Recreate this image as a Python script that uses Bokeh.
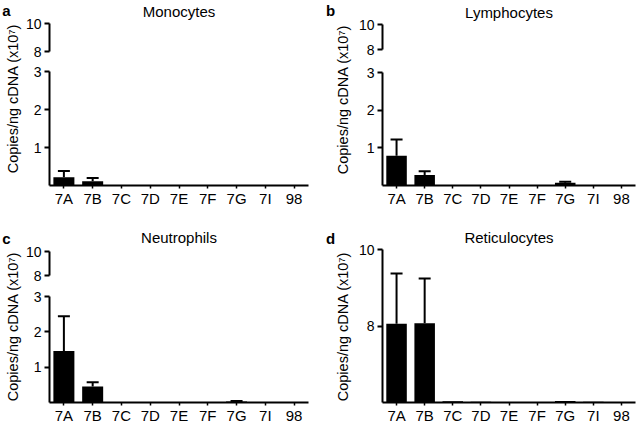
import math
from bokeh.plotting import figure
from bokeh.models import ColumnDataSource, FactorRange, Range1d, FixedTicker, Whisker, TeeHead
from bokeh.layouts import row, column
from bokeh.embed import file_html
from bokeh.resources import INLINE
from bokeh.core.properties import value

# ---------------- data ----------------
categories = ["7A", "7B", "7C", "7D", "7E", "7F", "7G", "7I", "98"]

mono_mean = [0.22, 0.11, 0.01, 0.01, 0.005, 0.005, 0.01, 0.005, 0.01]
mono_sem = [0.16, 0.09, 0, 0, 0, 0, 0, 0, 0]

lymph_mean = [0.79, 0.28, 0.01, 0.01, 0.01, 0.005, 0.07, 0.005, 0.01]
lymph_sem = [0.43, 0.10, 0, 0, 0, 0, 0.03, 0, 0]

neut_mean = [1.46, 0.45, 0.01, 0.01, 0.01, 0.01, 0.03, 0.005, 0.01]
neut_sem = [0.98, 0.12, 0, 0, 0, 0, 0.01, 0, 0]

retic_mean = [8.06, 8.07, 6.03, 6.02, 6.01, 6.005, 6.04, 6.02, 6.01]
retic_sem = [1.31, 1.17, 0, 0, 0, 0, 0, 0, 0]

titles = ["Monocytes", "Lymphocytes", "Neutrophils", "Reticulocytes"]
letters = ["a", "b", "c", "d"]
y_label = "Copies/ng cDNA (x10\u2077)"

lower_range = (0, 3)
lower_ticks = [1, 2, 3]
upper_range = (8, 10)
upper_ticks = [8, 10]
retic_range = (6, 10)
retic_ticks = [8, 10]

FONT = "Liberation Sans"
BAR_W = 0.73


def base_fig(width, height, yr, left, right, top, bottom, with_x=True):
    kw = {} if with_x else {"x_axis_location": None}
    p = figure(width=width, height=height, tools="",
               x_range=FactorRange(*categories, range_padding=0),
               y_range=Range1d(*yr), output_backend="svg", toolbar_location=None,
               min_border_left=left, min_border_right=right,
               min_border_top=top, min_border_bottom=bottom, **kw)
    p.outline_line_color = None
    p.xgrid.grid_line_color = None
    p.ygrid.grid_line_color = None
    p.background_fill_color = "white"
    p.border_fill_color = "white"
    return p


def style_axes(p, ticks, show_x):
    ya = p.yaxis[0]
    ya.ticker = FixedTicker(ticks=ticks)
    ya.axis_line_width = 2
    ya.axis_line_color = "black"
    ya.major_tick_line_width = 2
    ya.major_tick_line_color = "black"
    ya.major_tick_out = 5
    ya.major_tick_in = 0
    ya.minor_tick_line_color = None
    ya.major_label_standoff = 3
    ya.major_label_text_font = FONT
    ya.major_label_text_font_size = "14px"
    ya.major_label_text_color = "black"
    if show_x:
        xa = p.xaxis[0]
        xa.axis_line_width = 2
        xa.major_tick_line_width = 1.5
        xa.major_tick_out = 3
        xa.major_tick_in = 0
        xa.minor_tick_line_color = None
        xa.major_label_standoff = 1
        xa.major_label_text_font = FONT
        xa.major_label_text_font_size = "15px"
        xa.major_label_text_color = "black"


def draw_bars(p, means, sems, base, y_start):
    # only bars / error bars that reach into this axis segment are drawn
    keep = [i for i, m in enumerate(means) if m > y_start]
    if keep:
        src = ColumnDataSource(dict(cat=[categories[i] for i in keep],
                                    mean=[means[i] for i in keep],
                                    bottom=[base] * len(keep)))
        p.vbar(x="cat", top="mean", bottom="bottom", width=BAR_W, source=src,
               fill_color="black", line_color=None)
    ekeep = [i for i, (m, s) in enumerate(zip(means, sems))
             if s > 0 and m + s > y_start]
    if ekeep:
        esrc = ColumnDataSource(dict(cat=[categories[i] for i in ekeep],
                                     lower=[means[i] for i in ekeep],
                                     upper=[means[i] + sems[i] for i in ekeep]))
        w = Whisker(base="cat", lower="lower", upper="upper", source=esrc,
                    line_width=2, line_color="black", lower_head=None,
                    upper_head=TeeHead(size=12, line_width=2, line_color="black"))
        p.add_layout(w)


def add_title(p, text, standoff, valign):
    p.title.text = text
    p.title.align = "center"
    p.title.vertical_align = valign
    p.title.text_font = FONT
    p.title.text_font_size = "15px"
    p.title.text_font_style = "normal"
    p.title.text_color = "black"
    p.title.standoff = standoff


def label_fig(width, height, letter, lx, ly, yx, yy):
    p = figure(width=width, height=height, tools="", x_range=Range1d(0, width),
               y_range=Range1d(0, height), output_backend="svg",
               toolbar_location=None, min_border=0,
               x_axis_location=None, y_axis_location=None)
    p.outline_line_color = None
    p.xgrid.grid_line_color = None
    p.ygrid.grid_line_color = None
    p.border_fill_color = "white"
    p.text(x=[lx], y=[ly], text=[letter], text_font=value(FONT),
           text_font_size="15px", text_font_style="bold", text_color="black",
           text_align="center", text_baseline="alphabetic")
    p.text(x=[yx], y=[yy], text=[y_label], text_font=value(FONT),
           text_font_size="14.5px", text_color="black", angle=math.pi / 2,
           text_align="center", text_baseline="middle")
    return p


def broken_panel(means, sems, title, letter, lab_w, fig_w, left, right,
                 up, lo, letter_pos, ylab_pos, t_standoff, t_valign):
    up_h, up_top, up_bot = up
    lo_h, lo_top, lo_bot = lo
    pu = base_fig(fig_w, up_h, upper_range, left, right, up_top, up_bot, with_x=False)
    add_title(pu, title, t_standoff, t_valign)
    draw_bars(pu, means, sems, lower_range[0], upper_range[0])
    style_axes(pu, upper_ticks, False)
    pl = base_fig(fig_w, lo_h, lower_range, left, right, lo_top, lo_bot)
    draw_bars(pl, means, sems, lower_range[0], lower_range[0])
    style_axes(pl, lower_ticks, True)
    lf = label_fig(lab_w, up_h + lo_h, letter, letter_pos[0], letter_pos[1],
                   ylab_pos[0], ylab_pos[1])
    return row(lf, column(pu, pl))


# top row height 210, bottom row 216; each panel 318 wide
pa = broken_panel(mono_mean, mono_sem, titles[0], letters[0], 22, 296, 27, 10,
                  (61, 23, 10), (149, 10, 25), (6, 200), (12, 112), 3, "top")
pb = broken_panel(lymph_mean, lymph_sem, titles[1], letters[1], 34, 284, 30, 1,
                  (61, 24, 12), (149, 11, 25), (12, 200), (24, 111), 3, "top")
pc = broken_panel(neut_mean, neut_sem, titles[2], letters[2], 22, 296, 27, 10,
                  (75, 41, 10), (141, 11, 24), (6, 188), (12, 100), 11, "bottom")

# panel d: continuous axis
pd_fig = base_fig(284, 216, retic_range, 30, 1, 39, 24)
add_title(pd_fig, titles[3], 7, "bottom")
draw_bars(pd_fig, retic_mean, retic_sem, retic_range[0], retic_range[0])
style_axes(pd_fig, retic_ticks, True)
pd_lab = label_fig(34, 216, letters[3], 12, 188, 24, 100)
pd = row(pd_lab, column(pd_fig))

layout = column(row(pa, pb), row(pc, pd))

open("out.html", "w").write(file_html(layout, INLINE))
